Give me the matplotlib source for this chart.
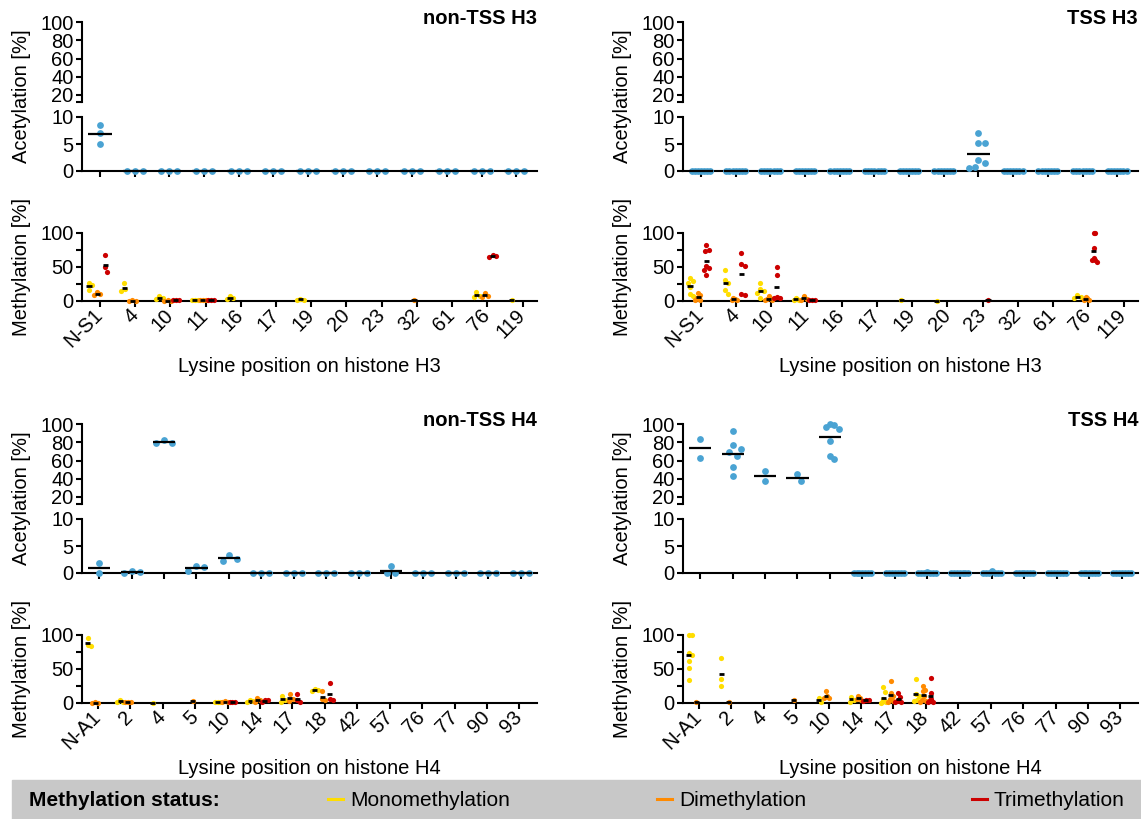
import numpy as np
import matplotlib.pyplot as plt
from matplotlib.patches import Rectangle
from matplotlib.lines import Line2D

plt.rcParams['font.family'] = ['Liberation Sans', 'DejaVu Sans']

W, H = 1141, 819
FS = 14.5
BLUE = '#4aa3d3'
COLS = ['#ffdd00', '#ff8a00', '#cc0000']  # mono, di, tri

h3_sites = ['N-S1', '4', '10', '11', '16', '17', '19', '20', '23', '32', '61', '76', '119']
h4_sites = ['N-A1', '2', '4', '5', '10', '14', '17', '18', '42', '57', '76', '77', '90', '93']

# acetylation [%], non-TSS H3
nontss_h3_ac = [[8.5, 5.0, 7.0], [0, 0, 0], [0, 0, 0], [0, 0, 0], [0, 0, 0], [0, 0, 0], [0, 0, 0],
                [0, 0, 0], [0, 0, 0], [0, 0, 0], [0, 0, 0], [0, 0, 0], [0, 0, 0]]
# methylation [%], non-TSS H3
nontss_h3_me1 = [[27, 23, 16], [26, 18, 14], [8, 4, 3], [2, 1, 1], [7, 4, 3], [], [3, 2, 2], [], [], [], [],
                 [13, 8, 6], [2]]
nontss_h3_me2 = [[13, 10, 9], [1, 0.5, 0.5], [1, 0.5, 0], [1, 1, 1], [], [], [], [], [], [2], [],
                 [12, 7, 6], []]
nontss_h3_me3 = [[68, 50, 42], [], [2, 1, 1], [1, 1, 1], [], [], [], [], [], [], [],
                 [67, 65, 66], []]

# acetylation [%], TSS H3
tss_h3_ac = [[0, 0, 0, 0, 0, 0, 0], [0, 0, 0, 0, 0, 0, 0], [0, 0, 0, 0, 0, 0, 0], [0, 0, 0, 0, 0, 0, 0],
             [0, 0, 0, 0, 0, 0, 0], [0, 0, 0, 0, 0, 0, 0], [0, 0, 0, 0, 0, 0, 0], [0, 0, 0, 0, 0, 0, 0],
             [7.0, 5.2, 5.2, 2.0, 1.5, 0.7, 0.5], [0, 0, 0, 0, 0, 0, 0], [0, 0, 0, 0, 0, 0, 0],
             [0, 0, 0, 0, 0, 0, 0], [0, 0, 0, 0, 0, 0, 0]]
tss_h3_me1 = [[34, 30, 27, 20, 10, 8], [45, 31, 27, 16, 11], [26, 17, 15, 12, 4], [5, 3, 2, 1], [], [],
              [1.5], [0.5], [], [], [], [9, 6, 4], []]
tss_h3_me2 = [[12, 9, 5, 3, 1, 1], [5, 3, 2, 1], [7, 5, 3, 2, 1], [7, 3, 2], [], [], [], [], [], [], [],
              [6, 4, 2, 2], []]
tss_h3_me3 = [[82, 75, 73, 52, 48, 46, 38], [71, 55, 52, 11, 9], [50, 38, 6, 5, 4], [2, 1, 1], [], [], [],
              [], [2], [], [], [100, 100, 78, 63, 60, 60, 57], []]

# acetylation [%], non-TSS H4
nontss_h4_ac = [[1.8, 0], [0.3, 0, 0.1], [83, 79.5, 79.5], [1.3, 0.4, 1.1], [3.4, 2.2, 2.6], [0, 0, 0],
                [0, 0, 0], [0, 0, 0], [0, 0, 0], [1.3, 0, 0], [0, 0, 0], [0, 0, 0], [0, 0, 0], [0, 0, 0]]
nontss_h4_me1 = [[96, 85, 84], [4, 2, 1], [0.5], [], [1.5, 1, 1.5], [4, 3, 2], [11, 5, 1], [20, 19, 17],
                 [], [], [], [], [], []]
nontss_h4_me2 = [[1, 0.5, 0.5], [2, 1.5, 1], [], [3], [3, 2, 1], [8, 4, 2], [13, 6, 3], [17, 6, 4],
                 [], [], [], [], [], []]
nontss_h4_me3 = [[], [], [], [], [2, 1, 1], [5, 4, 1], [13, 4, 2], [29, 6, 5],
                 [], [], [], [], [], []]

# acetylation [%], TSS H4
tss_h4_ac = [[84, 63], [92, 77, 73, 69, 65, 53, 43], [48, 38], [45, 37], [100, 99, 97, 94, 81, 65, 62],
             [0, 0, 0, 0, 0, 0, 0], [0, 0, 0, 0, 0, 0, 0], [0.1, 0, 0, 0, 0, 0, 0], [0, 0, 0, 0, 0, 0, 0],
             [0.4, 0, 0, 0, 0, 0, 0], [0, 0, 0, 0, 0, 0, 0], [0, 0, 0, 0, 0, 0, 0], [0, 0, 0, 0, 0, 0, 0],
             [0, 0, 0, 0, 0, 0, 0]]
tss_h4_me1 = [[100, 100, 74, 71, 62, 52, 34], [66, 35, 25], [], [], [8, 2], [9, 5, 1.5],
              [23, 16, 6, 3, 2, 1, 0], [36, 13, 11, 5, 3], [], [], [], [], [], []]
tss_h4_me2 = [[1.5], [1.5], [], [4], [18, 10, 8, 7], [10, 8, 6, 5], [33, 14, 11, 6, 3, 1],
              [25, 19, 17, 10, 5, 3, 1], [], [], [], [], [], []]
tss_h4_me3 = [[], [], [], [], [], [5, 4, 3], [14, 9, 5, 3, 2, 1], [37, 14, 6, 4, 2, 1],
              [], [], [], [], [], []]


def box(x0, y0, x1, y1):
    # pixel box (top-left origin) -> figure fraction
    return [x0 / W, 1 - y1 / H, (x1 - x0) / W, (y1 - y0) / H]


def swarm(vals, ppu_y, ppu_x, gap, maxw):
    # simple beeswarm: horizontal offsets so dots don't overlap
    vals = np.asarray(vals, float)
    offs = np.zeros(len(vals))
    placed = []
    step = gap / 4.0
    cands = [0.0]
    for j in range(1, 400):
        cands += [j * step, -j * step]
    for i in np.argsort(-vals, kind='stable'):
        y = vals[i] * ppu_y
        for c in cands:
            if all((c - px) ** 2 + (y - py) ** 2 >= gap ** 2 for px, py in placed):
                break
        placed.append((c, y))
        offs[i] = c
    offs = offs / ppu_x
    m = np.abs(offs).max() if len(offs) else 0
    if m > maxw:
        offs = offs * maxw / m
    return offs


def style_axis(ax):
    for s in ['top', 'right']:
        ax.spines[s].set_visible(False)
    for s in ['left', 'bottom']:
        ax.spines[s].set_linewidth(1.5)
    ax.tick_params(which='both', width=1.5, length=4, labelsize=FS, pad=2)
    ax.patch.set_visible(False)


fig = plt.figure(figsize=(W / 100, H / 100), dpi=100)


def panel(x0, x1, dy, sites, ac, me, title, xlabel, ac_xlim, me_xlim):
    n = len(sites)
    up = fig.add_axes(box(x0, 22 + dy, x1, 102.3 + dy))
    lo = fig.add_axes(box(x0, 117 + dy, x1, 171 + dy))
    mt = fig.add_axes(box(x0, 233 + dy, x1, 301 + dy))
    for ax in (up, lo, mt):
        style_axis(ax)
    ac_ppx = (x1 - x0) / (ac_xlim[1] - ac_xlim[0])
    me_ppx = (x1 - x0) / (me_xlim[1] - me_xlim[0])

    up.spines['bottom'].set_visible(False)
    up.set_xticks([])
    up.set_ylim(12, 100)
    up.set_yticks([20, 40, 60, 80, 100])
    up.set_yticks([12], minor=True)
    lo.set_ylim(0, 10)
    lo.set_yticks([0, 5, 10])
    for ax in (up, lo):
        ax.set_xlim(*ac_xlim)
    lo.set_xticks(range(n))
    lo.set_xticklabels([])

    for i, vals in enumerate(ac):
        vals = np.array(vals, float)
        for ax, mask, ppy in ((lo, vals <= 10, 5.4), (up, vals >= 12, 0.9125)):
            v = vals[mask]
            if len(v) == 0:
                continue
            off = swarm(v, ppy, ac_ppx, 8.0, 0.27)
            ax.scatter(i + off, v, s=24, color=BLUE, lw=0, clip_on=False, zorder=3)
        m = vals.mean()
        ax = up if m > 11 else lo
        ax.plot([i - 0.34, i + 0.34], [m, m], color='black', lw=1.6, zorder=4,
                clip_on=False, solid_capstyle='butt')

    mt.set_xlim(*me_xlim)
    mt.set_ylim(0, 100)
    mt.set_yticks([0, 50, 100])
    mt.set_yticks([25, 75], minor=True)
    mt.set_xticks(range(n))
    mt.set_xticklabels(sites, rotation=45, ha='right', va='center', rotation_mode='anchor')
    mt.tick_params(axis='x', pad=4)
    for k, (series, col) in enumerate(zip(me, COLS)):
        for i, vals in enumerate(series):
            if not vals:
                continue
            cx = i - 0.08 + (k - 1) * 0.23
            off = swarm(vals, 0.68, me_ppx, 5.5, 0.09)
            mt.scatter(cx + off, vals, s=14, color=col, lw=0, clip_on=False, zorder=3)
            m = np.mean(vals)
            mt.plot([cx - 0.075, cx + 0.075], [m, m], color='black', lw=2, zorder=4,
                    solid_capstyle='butt', clip_on=False)

    fig.text(x1 / W, 1 - (19 + dy) / H, title, ha='right', va='center',
             fontweight='bold', fontsize=FS)
    fig.text((x0 - 60) / W, 1 - (96 + dy) / H, 'Acetylation [%]', rotation=90,
             ha='center', va='center', fontsize=FS)
    fig.text((x0 - 60) / W, 1 - (267 + dy) / H, 'Methylation [%]', rotation=90,
             ha='center', va='center', fontsize=FS)
    fig.text((x0 + x1) / 2 / W, 1 - (366 + dy) / H, xlabel, ha='center', va='center', fontsize=FS)


h3_ac_xlim = (-0.52, 12.6)
h3_me_xlim = (-0.51, 12.41)
h4_ac_xlim = (-0.53, 13.5)
h4_me_xlim = (-0.49, 13.54)

panel(82, 537, 0, h3_sites, nontss_h3_ac, [nontss_h3_me1, nontss_h3_me2, nontss_h3_me3],
      'non-TSS H3', 'Lysine position on histone H3', h3_ac_xlim, h3_me_xlim)
panel(683, 1138, 0, h3_sites, tss_h3_ac, [tss_h3_me1, tss_h3_me2, tss_h3_me3],
      'TSS H3', 'Lysine position on histone H3', h3_ac_xlim, h3_me_xlim)
panel(82, 537, 402, h4_sites, nontss_h4_ac, [nontss_h4_me1, nontss_h4_me2, nontss_h4_me3],
      'non-TSS H4', 'Lysine position on histone H4', h4_ac_xlim, h4_me_xlim)
panel(683, 1138, 402, h4_sites, tss_h4_ac, [tss_h4_me1, tss_h4_me2, tss_h4_me3],
      'TSS H4', 'Lysine position on histone H4', h4_ac_xlim, h4_me_xlim)

# legend band
fig.patches.append(Rectangle((12 / W, 0), (W - 12) / W, 39 / H, transform=fig.transFigure,
                             color='#c8c8c8', zorder=0))
ly = 1 - 801 / H
fig.text(29 / W, ly, 'Methylation status:', fontweight='bold', fontsize=15, va='center')
leg_names = ['Monomethylation', 'Dimethylation', 'Trimethylation']
leg_x = [328, 657, 972]
for name, col, x in zip(leg_names, COLS, leg_x):
    fig.add_artist(Line2D([x / W, (x + 15) / W], [ly + 2 / H, ly + 2 / H], color=col, lw=2.2,
                          transform=fig.transFigure))
    fig.text((x + 22) / W, ly, name, fontsize=15, va='center')

fig.savefig('out.png', dpi=100)
